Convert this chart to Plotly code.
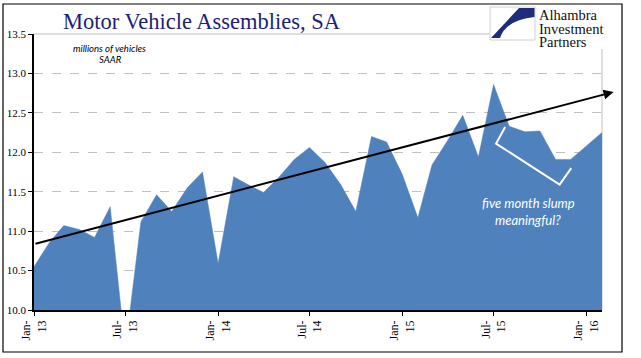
import plotly.graph_objects as go

# ---------------- data ----------------
months = [
    "2013-01-01", "2013-02-01", "2013-03-01", "2013-04-01", "2013-05-01", "2013-06-01",
    "2013-07-01", "2013-08-01", "2013-09-01", "2013-10-01", "2013-11-01", "2013-12-01",
    "2014-01-01", "2014-02-01", "2014-03-01", "2014-04-01", "2014-05-01", "2014-06-01",
    "2014-07-01", "2014-08-01", "2014-09-01", "2014-10-01", "2014-11-01", "2014-12-01",
    "2015-01-01", "2015-02-01", "2015-03-01", "2015-04-01", "2015-05-01", "2015-06-01",
    "2015-07-01", "2015-08-01", "2015-09-01", "2015-10-01", "2015-11-01", "2015-12-01",
    "2016-01-01", "2016-02-01",
]
assemblies = [
    10.55, 10.86, 11.07, 11.02, 10.92, 11.31,
    9.50, 11.12, 11.46, 11.25, 11.55, 11.75,
    10.59, 11.69, 11.59, 11.49, 11.68, 11.91,
    12.06, 11.87, 11.59, 11.25, 12.20, 12.13,
    11.72, 11.17, 11.84, 12.15, 12.47, 11.94,
    12.86, 12.33, 12.26, 12.27, 11.91, 11.91,
    12.08, 12.25,
]
tick_dates = ["2013-01-01", "2013-07-01", "2014-01-01", "2014-07-01",
              "2015-01-01", "2015-07-01", "2016-01-01"]
tick_labels = ["Jan-<br>13", "Jul-<br>13", "Jan-<br>14", "Jul-<br>14",
               "Jan-<br>15", "Jul-<br>15", "Jan-<br>16"]
y_ticks = [10.0, 10.5, 11.0, 11.5, 12.0, 12.5, 13.0, 13.5]

trend_dates = ["2013-01-01", "2016-02-24"]
trend_values = [10.836, 12.765]

bracket_dates = ["2015-07-24", "2015-07-06", "2015-11-09", "2015-12-02"]
bracket_values = [12.32, 12.11, 11.59, 11.80]

# ---------------- layout helpers (pixel -> paper) ----------------
W, H = 641, 358
L, R, T, B = 34, 602, 34, 310


def px(x):
    return (x - L) / (R - L)


def py(y):
    return (B - y) / (B - T)


SERIF = "Liberation Serif, Times New Roman, serif"
SANS = "Lato, Open Sans, sans-serif"

fig = go.Figure()

fig.add_trace(go.Scatter(
    x=months, y=assemblies, mode="lines", fill="tozeroy",
    fillcolor="#4F81BD", line=dict(color="#4F81BD", width=0.5),
    hoverinfo="skip", showlegend=False,
))

fig.add_trace(go.Scatter(
    x=bracket_dates, y=bracket_values, mode="lines",
    line=dict(color="white", width=2), hoverinfo="skip", showlegend=False,
))

fig.update_layout(
    width=W, height=H,
    margin=dict(l=L, r=W - R, t=T, b=H - B, autoexpand=False),
    paper_bgcolor="white", plot_bgcolor="white",
    showlegend=False,
    xaxis=dict(
        type="date", range=[months[0], months[-1]], automargin=False,
        tickmode="array", tickvals=tick_dates, ticktext=tick_labels,
        tickangle=-90, tickfont=dict(family=SERIF, size=12, color="black"),
        showgrid=False, showline=True, linecolor="black", linewidth=1.5,
        ticks="outside", ticklen=4, tickcolor="black", zeroline=False,
    ),
    yaxis=dict(
        range=[10, 13.5], automargin=False, tickmode="array", tickvals=y_ticks,
        ticktext=[f"{v:.1f}" for v in y_ticks],
        tickfont=dict(family=SERIF, size=11, color="black"),
        showgrid=True, gridcolor="#BFBFBF", griddash="dash", gridwidth=1,
        showline=True, linecolor="black", linewidth=1.5,
        ticks="outside", ticklen=4, tickcolor="black", zeroline=False,
    ),
)

# plot-area border (light grey) on top and right
fig.add_shape(type="line", xref="paper", yref="paper", x0=0, x1=1, y0=1, y1=1,
              line=dict(color="#BFBFBF", width=1), layer="below")
fig.add_shape(type="line", xref="paper", yref="paper", x0=1, x1=1, y0=0, y1=1,
              line=dict(color="#BFBFBF", width=1), layer="below")

# logo background
fig.add_shape(type="rect", xref="paper", yref="paper",
              x0=px(489), x1=px(621), y0=py(49), y1=py(4.5),
              fillcolor="white", line=dict(width=0), layer="above")
# logo icon square border
fig.add_shape(type="rect", xref="paper", yref="paper",
              x0=px(490), x1=px(535), y0=py(40), y1=py(7),
              fillcolor="white", line=dict(color="#D0D0D0", width=1), layer="above")
# logo icon blade
icon_path = (
    f"M {px(519)},{py(8)} L {px(534.5)},{py(8)} L {px(534.5)},{py(17)} "
    f"Q {px(506)},{py(20)} {px(500)},{py(38)} L {px(491)},{py(38)} Z"
)
fig.add_shape(type="path", xref="paper", yref="paper", path=icon_path,
              fillcolor="#1F2C7A", line=dict(width=0), layer="above")

# frame around the whole chart
fig.add_shape(type="rect", xref="paper", yref="paper",
              x0=px(3), x1=px(622), y0=py(352), y1=py(4),
              line=dict(color="black", width=1.2), layer="above")

# title
fig.add_annotation(text="Motor Vehicle Assemblies, SA", xref="paper", yref="paper",
                   x=px(61), y=py(21), xanchor="left", yanchor="middle",
                   showarrow=False,
                   font=dict(family=SERIF, size=22.5, color="#1B1F7A"))

# logo text
for txt, yc in [("Alhambra", 15), ("Investment", 28.5), ("Partners", 42)]:
    fig.add_annotation(text=txt, xref="paper", yref="paper",
                       x=px(538), y=py(yc), xanchor="left", yanchor="middle",
                       showarrow=False, borderpad=0,
                       font=dict(family=SERIF, size=14.5, color="#111111"))

# units note
fig.add_annotation(text="<i>millions of vehicles</i>", xref="paper", yref="paper",
                   x=px(109), y=py(48), xanchor="center", yanchor="middle",
                   showarrow=False, font=dict(family=SANS, size=9.5, color="black"))
fig.add_annotation(text="<i>SAAR</i>", xref="paper", yref="paper",
                   x=px(110), y=py(60), xanchor="center", yanchor="middle",
                   showarrow=False, font=dict(family=SANS, size=9.5, color="black"))

# slump note
fig.add_annotation(text="<i>five month slump</i>", xref="paper", yref="paper",
                   x=px(528), y=py(203), xanchor="center", yanchor="middle",
                   showarrow=False, font=dict(family=SANS, size=13, color="white"))
fig.add_annotation(text="<i>meaningful?</i>", xref="paper", yref="paper",
                   x=px(528), y=py(220), xanchor="center", yanchor="middle",
                   showarrow=False, font=dict(family=SANS, size=13, color="white"))

# trend arrow
fig.add_annotation(x=trend_dates[1], y=trend_values[1],
                   ax=trend_dates[0], ay=trend_values[0],
                   xref="x", yref="y", axref="x", ayref="y",
                   text="", showarrow=True, arrowhead=2, arrowsize=1,
                   arrowwidth=2, arrowcolor="black", standoff=0, startstandoff=0)

fig.write_html(
    "out.html",
    config={"displayModeBar": False},
    post_script="document.body.style.margin='0';document.body.style.padding='0';",
)
